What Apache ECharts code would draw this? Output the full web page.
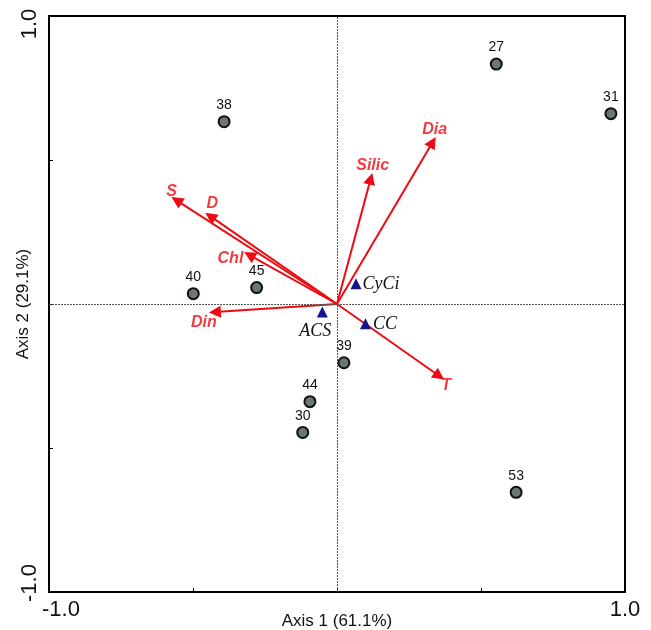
<!DOCTYPE html>
<html><head><meta charset="utf-8">
<script src="https://cdn.jsdelivr.net/npm/echarts@6/dist/echarts.min.js"></script>
<style>html,body{margin:0;padding:0;background:#fff}#c{width:651px;height:630px}</style>
</head><body><div id="c"></div>
<script>
// ---- data ----
const sampleNames = ['27','31','38','40','45','39','44','30','53'];
const sampleX = [0.553, 0.951, -0.392, -0.499, -0.279, 0.024, -0.094, -0.119, 0.622];
const sampleY = [0.833, 0.661, 0.633, 0.036, 0.057, -0.204, -0.339, -0.446, -0.654];

const groupNames = ['CyCi','ACS','CC'];
const groupX = [0.066, -0.051, 0.099];
const groupY = [0.070, -0.028, -0.069];

const varNames = ['S','D','Chl','Din','Silic','Dia','T'];
const varX = [-0.557, -0.440, -0.304, -0.424, 0.117, 0.332, 0.355];
const varY = [0.360, 0.305, 0.170, -0.028, 0.435, 0.562, -0.250];

const xTickLabels = ['-1.0','1.0'];
const yTickLabels = ['-1.0','1.0'];
const xAxisName = 'Axis 1 (61.1%)';
const yAxisName = 'Axis 2 (29.1%)';

// ---- label placement (style only) ----
const varLabelOffset = {S:[-5,-9], D:[2,-13], Chl:[-19,4], Din:[-11,11], Silic:[2,-13], Dia:[2,-13], T:[7,10]};
const groupLabelPos = {CyCi:{position:'right',distance:1}, ACS:{position:'inside',offset:[-7,19]}, CC:{position:'right',distance:2}};

const RED = '#ee0a12';
const chart = echarts.init(document.getElementById('c'), null, {renderer:'canvas'});

const option = {
  animation: false,
  backgroundColor: '#fff',
  grid: {left:49, right:26, top:16, bottom:38, containLabel:false, outerBoundsMode:'none',
         show:true, borderColor:'#000', borderWidth:2, backgroundColor:'transparent'},
  xAxis: {
    type:'value', min:-1, max:1, interval:0.5,
    name: xAxisName, nameLocation:'middle', nameGap:21, nameMoveOverlap:false,
    nameTextStyle:{fontFamily:'Liberation Sans', fontSize:17, color:'#111'},
    axisLine:{show:true, onZero:false, lineStyle:{color:'#000', width:2}},
    axisTick:{show:true, inside:true, length:4, lineStyle:{color:'#000', width:1}},
    splitLine:{show:false},
    axisLabel:{
      show:true, margin:7, showMinLabel:true, showMaxLabel:true,
      fontFamily:'Liberation Sans', fontSize:22, color:'#111',
      formatter:function(v){ if (v===-1) return '{l|'+xTickLabels[0]+'}'; if (v===1) return '{r|'+xTickLabels[1]+'}'; return ''; },
      rich:{ l:{fontFamily:'Liberation Sans', fontSize:22, color:'#111', padding:[0,0,0,24]},
             r:{fontFamily:'Liberation Sans', fontSize:22, color:'#111'} }
    }
  },
  yAxis: {
    type:'value', min:-1, max:1, interval:0.5,
    name: yAxisName, nameLocation:'middle', nameGap:17, nameRotate:90, nameMoveOverlap:false,
    nameTextStyle:{fontFamily:'Liberation Sans', fontSize:17, color:'#111'},
    axisLine:{show:true, onZero:false, lineStyle:{color:'#000', width:2}},
    axisTick:{show:true, inside:true, length:4, lineStyle:{color:'#000', width:1}},
    splitLine:{show:false},
    axisLabel:{
      show:true, margin:8, rotate:90, showMinLabel:true, showMaxLabel:true,
      fontFamily:'Liberation Sans', fontSize:22, color:'#111',
      formatter:function(v){ if (v===-1) return '{b|'+yTickLabels[0]+'}'; if (v===1) return '{t|'+yTickLabels[1]+'}'; return ''; },
      rich:{ b:{fontFamily:'Liberation Sans', fontSize:22, color:'#111', padding:[0,0,0,18]},
             t:{fontFamily:'Liberation Sans', fontSize:22, color:'#111', padding:[0,16,0,0]} }
    }
  },
  series: [
    { // zero reference lines
      type:'scatter', data:[], z:1, silent:true,
      markLine:{silent:true, symbol:'none', label:{show:false},
        lineStyle:{color:'#555', width:1, type:[2,1]},
        data:[{xAxis:0},{yAxis:0}]}
    },
    { // environmental vectors
      type:'lines', coordinateSystem:'cartesian2d', z:3, silent:true,
      symbol:['none','triangle'], symbolSize:[0,12],
      lineStyle:{color:RED, width:2, opacity:1},
      data: varNames.map((n,i)=>({coords:[[0,0],[varX[i],varY[i]]]}))
    },
    { // vector labels
      type:'scatter', z:4, symbolSize:0, silent:true,
      data: varNames.map((n,i)=>({name:n, value:[varX[i],varY[i]],
        label:{show:true, position:'inside', offset:varLabelOffset[n], formatter:n,
          fontFamily:'Liberation Sans', fontWeight:'bold', fontStyle:'italic', fontSize:16, color:RED}}))
    },
    { // sample sites
      type:'scatter', z:5, symbol:'circle', symbolSize:11,
      itemStyle:{color:'#6b7676', borderColor:'#111', borderWidth:2, opacity:1},
      label:{show:true, position:'top', distance:3, formatter:'{b}',
        fontFamily:'Liberation Sans', fontSize:14, color:'#111'},
      data: sampleNames.map((n,i)=>({name:n, value:[sampleX[i],sampleY[i]]}))
    },
    { // groups
      type:'scatter', z:6, symbol:'triangle', symbolSize:11,
      itemStyle:{color:'#14148c', opacity:1},
      data: groupNames.map((n,i)=>({name:n, value:[groupX[i],groupY[i]],
        label:Object.assign({show:true, formatter:n, fontFamily:'Liberation Serif', fontStyle:'italic', fontSize:18, color:'#111'}, groupLabelPos[n])}))
    }
  ]
};
chart.setOption(option);
</script>
</body></html>
